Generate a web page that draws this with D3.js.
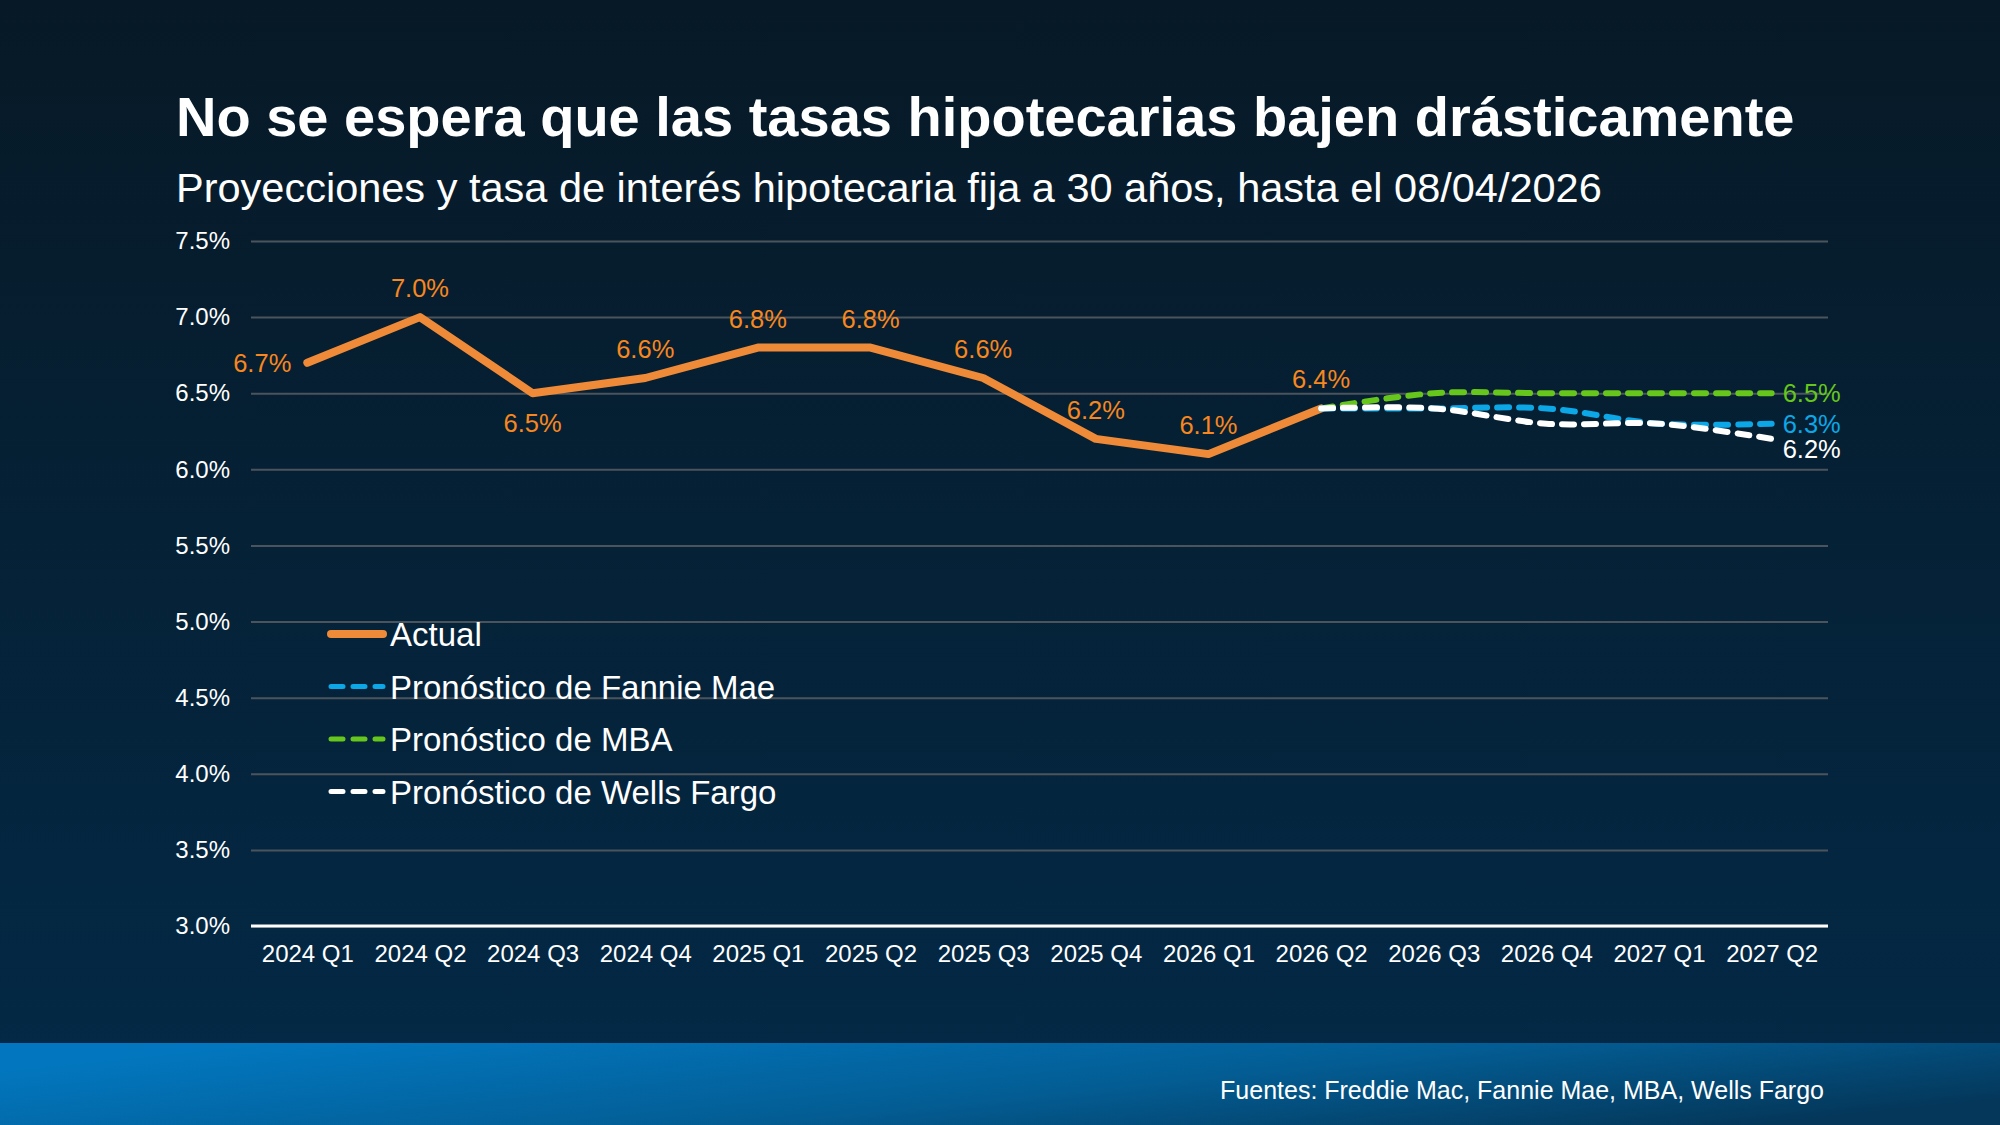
<!DOCTYPE html>
<html>
<head>
<meta charset="utf-8">
<script src="https://cdn.jsdelivr.net/npm/d3@7"></script>
<style>
  html, body { margin: 0; padding: 0; background: #071b2b; }
  svg { display: block; font-family: "Liberation Sans", Arial, sans-serif; }
</style>
</head>
<body>
<div id="chart"></div>
<script>
const quarters = ['2024 Q1', '2024 Q2', '2024 Q3', '2024 Q4', '2025 Q1', '2025 Q2', '2025 Q3',
                  '2025 Q4', '2026 Q1', '2026 Q2', '2026 Q3', '2026 Q4', '2027 Q1', '2027 Q2']
const actual = [6.7, 7.0, 6.5, 6.6, 6.8, 6.8, 6.6, 6.2, 6.1, 6.4]
const forecastQuarters = ['2026 Q2', '2026 Q3', '2026 Q4', '2027 Q1', '2027 Q2']
const fannieMae = [6.4, 6.4, 6.4, 6.3, 6.3]
const mba = [6.4, 6.5, 6.5, 6.5, 6.5]
const wellsFargo = [6.4, 6.4, 6.3, 6.3, 6.2]
const yTicks = [3.0, 3.5, 4.0, 4.5, 5.0, 5.5, 6.0, 6.5, 7.0, 7.5]

const W = 2000, H = 1125
const font = '"Liberation Sans", Arial, sans-serif'
const orange = '#ee8a38', orangeText = '#f7871e'
const blue = '#0ba7e6', green = '#66c61c', white = '#ffffff'

const svg = d3.select('#chart').append('svg')
    .attr('width', W)
    .attr('height', H)

const defs = svg.append('defs')
const bg = defs.append('linearGradient').attr('id', 'bg')
    .attr('x1', 0).attr('y1', 0).attr('x2', 0).attr('y2', 1)
bg.append('stop').attr('offset', '0%').attr('stop-color', '#071926')
bg.append('stop').attr('offset', '100%').attr('stop-color', '#032a48')
const foot = defs.append('linearGradient').attr('id', 'foot')
    .attr('x1', 0).attr('y1', 0.3).attr('x2', 1).attr('y2', 0.7)
foot.append('stop').attr('offset', '0%').attr('stop-color', '#0277bf')
foot.append('stop').attr('offset', '55%').attr('stop-color', '#035d94')
foot.append('stop').attr('offset', '100%').attr('stop-color', '#04375a')

svg.append('rect').attr('width', W).attr('height', H).attr('fill', 'url(#bg)')
svg.append('rect').attr('x', 0).attr('y', 1043).attr('width', W).attr('height', H - 1043)
    .attr('fill', 'url(#foot)')

// titles
svg.append('text').attr('x', 176).attr('y', 136)
    .attr('fill', '#fff').attr('font-size', 56).attr('font-weight', 'bold')
    .text('No se espera que las tasas hipotecarias bajen drásticamente')
svg.append('text').attr('x', 176).attr('y', 202)
    .attr('fill', '#fff').attr('font-size', 41.5)
    .text('Proyecciones y tasa de interés hipotecaria fija a 30 años, hasta el 08/04/2026')
svg.append('text').attr('x', 1824).attr('y', 1099)
    .attr('text-anchor', 'end')
    .attr('fill', '#fff').attr('font-size', 25)
    .text('Fuentes: Freddie Mac, Fannie Mae, MBA, Wells Fargo')

// scales
const x = d3.scalePoint().domain(quarters).range([251, 1828]).padding(0.5)
const y = d3.scaleLinear().domain([3, 7.5]).range([926, 241])

// grid + y axis
const yAxis = svg.append('g').attr('transform', 'translate(251,0)')
    .call(d3.axisLeft(y).tickValues(yTicks).tickSize(-1577).tickPadding(21)
        .tickFormat(d => d.toFixed(1) + '%'))
yAxis.attr('font-family', font)
yAxis.select('.domain').remove()
yAxis.selectAll('.tick line').attr('stroke', '#4b545d').attr('stroke-width', 2)
yAxis.selectAll('.tick text').attr('fill', '#fff').attr('font-size', 24)

// x axis
const xAxis = svg.append('g').attr('transform', 'translate(0,926)')
    .call(d3.axisBottom(x).tickSize(0).tickPadding(19))
xAxis.attr('font-family', font)
xAxis.select('.domain').attr('stroke', '#fff').attr('stroke-width', 3)
    .attr('d', 'M251,0H1828')
xAxis.selectAll('.tick text').attr('fill', '#fff').attr('font-size', 24)

// lines
const actualData = actual.map((v, i) => ({ q: quarters[i], v }))
const line = d3.line().x(d => x(d.q)).y(d => y(d.v))
const smooth = d3.line().x(d => x(d.q)).y(d => y(d.v)).curve(d3.curveCatmullRom.alpha(0.5))

svg.append('path').datum(actualData)
    .attr('d', line)
    .attr('fill', 'none').attr('stroke', orange).attr('stroke-width', 8)
    .attr('stroke-linejoin', 'round').attr('stroke-linecap', 'round')

const forecasts = [
    { name: 'mba', values: mba, color: green },
    { name: 'fannie', values: fannieMae, color: blue },
    { name: 'wells', values: wellsFargo, color: white }
]
forecasts.forEach(f => {
    svg.append('path')
        .datum(f.values.map((v, i) => ({ q: forecastQuarters[i], v })))
        .attr('d', smooth)
        .attr('fill', 'none').attr('stroke', f.color).attr('stroke-width', 6)
        .attr('stroke-dasharray', '12,10').attr('stroke-linecap', 'round')
})

// data labels for actual
const labelPos = ['left', 'above', 'below', 'above', 'above', 'above', 'above', 'above', 'above', 'above']
svg.append('g').selectAll('text')
    .data(actualData)
    .enter().append('text')
    .attr('x', (d, i) => labelPos[i] === 'left' ? x(d.q) - 16 : x(d.q))
    .attr('y', (d, i) => labelPos[i] === 'above' ? y(d.v) - 20 : labelPos[i] === 'below' ? y(d.v) + 39 : y(d.v) + 9)
    .attr('text-anchor', (d, i) => labelPos[i] === 'left' ? 'end' : 'middle')
    .attr('fill', orangeText).attr('font-size', 25.5)
    .text(d => d.v.toFixed(1) + '%')

// end labels for forecasts
const endOffset = { mba: 9, fannie: 9, wells: 19 }
forecasts.forEach(f => {
    const last = f.values[f.values.length - 1]
    svg.append('text')
        .attr('x', x(forecastQuarters[forecastQuarters.length - 1]) + 11)
        .attr('y', y(last) + endOffset[f.name])
        .attr('fill', f.color).attr('font-size', 25.5)
        .text(last.toFixed(1) + '%')
})

// legend
const legendItems = [
    { label: 'Actual', color: orange, dashed: false },
    { label: 'Pronóstico de Fannie Mae', color: blue, dashed: true },
    { label: 'Pronóstico de MBA', color: green, dashed: true },
    { label: 'Pronóstico de Wells Fargo', color: white, dashed: true }
]
const legend = svg.append('g').attr('transform', 'translate(331,634)')
legendItems.forEach((item, i) => {
    const g = legend.append('g').attr('transform', `translate(0,${i * 52.5})`)
    g.append('line').attr('x1', 0).attr('x2', 52).attr('y1', 0).attr('y2', 0)
        .attr('stroke', item.color).attr('stroke-width', item.dashed ? 5 : 8)
        .attr('stroke-linecap', 'round')
        .attr('stroke-dasharray', item.dashed ? '12,10' : null)
    g.append('text').attr('x', 59).attr('y', 12)
        .attr('fill', '#fff').attr('font-size', 33)
        .text(item.label)
})
</script>
</body>
</html>
